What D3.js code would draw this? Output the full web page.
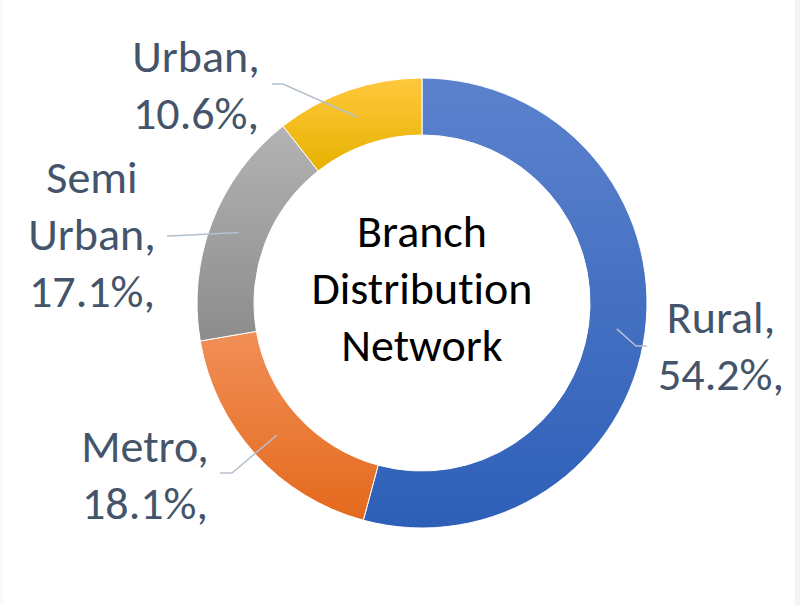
<!DOCTYPE html>
<html>
<head>
<meta charset="utf-8">
<script src="https://cdn.jsdelivr.net/npm/d3@7"></script>
<style>
  body { margin: 0; background: #fff; }
  svg { display: block; }
  text { font-variant-ligatures: none; font-feature-settings: "liga" 0, "clig" 0; }
</style>
</head>
<body>
<svg id="chart"></svg>
<script>
// data
const categories = ['Rural', 'Metro', 'Semi Urban', 'Urban'];
const shares = [54.2, 18.1, 17.1, 10.6];
const labelLines = [['Rural,', '54.2%,'], ['Metro,', '18.1%,'], ['Semi', 'Urban,', '17.1%,'], ['Urban,', '10.6%,']];
const centerTitle = ['Branch', 'Distribution', 'Network'];

// colours: top / bottom of each slice gradient
const topColors = ['#5c82cd', '#f18f58', '#b3b3b3', '#ffc83e'];
const bottomColors = ['#2e5fb8', '#e4691c', '#8c8c8c', '#e6b200'];

const width = 800, height = 605;
const cx = 422, cy = 303;
const outerR = 225, innerR = 168;

// where each label block sits (centre x, first baseline) and where its leader starts
const labelPos = [
  { x: 721, y: 333, lead: [[647, 346], [636, 346]] },
  { x: 145, y: 462, lead: [[220, 473], [232, 473]] },
  { x: 92, y: 193, lead: [[167, 236], [180, 235.5]] },
  { x: 196, y: 72, lead: [[272, 84], [283, 84]] }
];
const lineH = 57;
const fontSize = '46px';

const svg = d3.select('#chart')
  .attr('width', width)
  .attr('height', height);

svg.append('rect').attr('width', width).attr('height', height).attr('fill', '#fff');
svg.append('rect').attr('x', 795).attr('y', 0).attr('width', 5).attr('height', height).attr('fill', '#f4f4f4');
svg.append('rect').attr('x', 0).attr('y', 0).attr('width', 3).attr('height', height).attr('fill', '#fafafa');

const defs = svg.append('defs');
categories.forEach(function (c, i) {
  const g = defs.append('linearGradient')
    .attr('id', 'grad' + i)
    .attr('x1', 0).attr('y1', 0).attr('x2', 0).attr('y2', 1);
  g.append('stop').attr('offset', '0%').attr('stop-color', topColors[i]);
  g.append('stop').attr('offset', '100%').attr('stop-color', bottomColors[i]);
});

const pie = d3.pie().sort(null).value(d => d);
const arcs = pie(shares);

const arc = d3.arc().innerRadius(innerR).outerRadius(outerR);
const midArc = d3.arc().innerRadius((innerR + outerR) / 2).outerRadius((innerR + outerR) / 2);

const g = svg.append('g').attr('transform', `translate(${cx},${cy})`);

g.selectAll('path.slice')
  .data(arcs)
  .enter()
  .append('path')
  .attr('class', 'slice')
  .attr('d', arc)
  .attr('fill', (d, i) => `url(#grad${i})`)
  .attr('stroke', '#fff')
  .attr('stroke-width', 1);

// leader lines
const leader = d3.line();
svg.selectAll('path.leader')
  .data(arcs)
  .enter()
  .append('path')
  .attr('class', 'leader')
  .attr('d', function (d, i) {
    const c = midArc.centroid(d);
    const pts = labelPos[i].lead.concat([[c[0] + cx, c[1] + cy]]);
    return leader(pts);
  })
  .attr('fill', 'none')
  .attr('stroke', '#b4c0cf')
  .attr('stroke-width', 1.5);

// data labels
labelLines.forEach(function (lines, i) {
  const t = svg.append('text')
    .attr('text-anchor', 'middle')
    .attr('fill', '#44546a')
    .style('font-family', 'Carlito, Calibri, Roboto, sans-serif')
    .style('font-size', fontSize);
  lines.forEach(function (s, j) {
    t.append('tspan')
      .attr('x', labelPos[i].x)
      .attr('y', labelPos[i].y + j * lineH)
      .text(s);
  });
});

// centre title
const title = svg.append('text')
  .attr('text-anchor', 'middle')
  .attr('fill', '#000')
  .style('font-family', 'Carlito, Calibri, Roboto, sans-serif')
  .style('font-size', fontSize);
centerTitle.forEach(function (s, j) {
  title.append('tspan')
    .attr('x', cx)
    .attr('y', 247 + j * lineH)
    .text(s);
});
</script>
</body>
</html>
